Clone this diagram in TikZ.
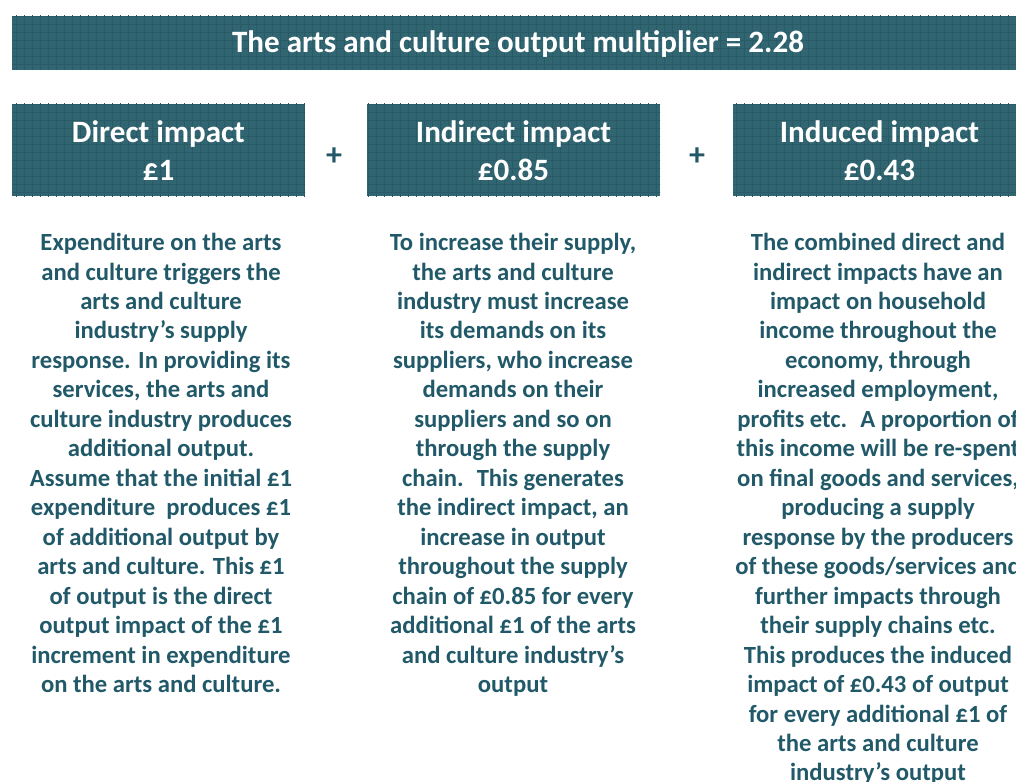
\documentclass[tikz,border=0pt]{standalone}
\usepackage{fontspec}
\setmainfont{Carlito}
\definecolor{boxteal}{RGB}{49,101,113}
\definecolor{gridteal}{RGB}{41,91,103}
\definecolor{textteal}{RGB}{33,89,105}
\begin{document}
\begin{tikzpicture}[x=0.75pt,y=-0.75pt,
  bar/.style={fill=boxteal,draw=none},
  texture/.style={draw=gridteal,line width=0.25pt},
  bartext/.style={text=white,font=\bfseries\fontsize{23.3}{28.5}\selectfont,align=center,inner sep=0pt},
  body/.style={text=textteal,font=\bfseries\fontsize{18.5}{22.1}\selectfont,align=center,inner sep=0pt,anchor=north},
  plus/.style={text=textteal,font=\bfseries\fontsize{24}{26}\selectfont,inner sep=0pt}]
\useasboundingbox (0,0) rectangle (1016,781);
\clip (0,0) rectangle (1016,781);
% header and boxes with grid texture
\foreach \xa/\ya/\xb/\yb in {12/16/1026/70, 12/104/305/196, 367/104/660/196, 733/104/1026/196}{
  \begin{scope}
    \clip (\xa,\ya) rectangle (\xb,\yb);
    \fill[bar] (\xa,\ya) rectangle (\xb,\yb);
    \foreach \gx in {0,8,...,1024}{\draw[texture] (\gx,0) -- (\gx,200);}
    \foreach \gy in {0,8,...,200}{\draw[texture] (0,\gy) -- (1030,\gy);}
  \end{scope}
}
\node[bartext] (title) at (518,44) {The arts and culture output multiplier = 2.28};
\node[bartext] (direct) at (158.5,151) {Direct impact\\£1};
\node[bartext] (indirect) at (513.5,151) {Indirect impact\\£0.85};
\node[bartext] (induced) at (879.5,151) {Induced impact\\£0.43};
\node[plus] (p1) at (334,157) {+};
\node[plus] (p2) at (697,157) {+};
% body texts
\node[body] (t1) at (161,233) {Expenditure on the arts\\and culture triggers the\\arts and culture\\industry’s supply\\response. In providing its\\services, the arts and\\culture industry produces\\additional output.\\Assume that the initial £1\\expenditure~ produces £1\\of additional output by\\arts and culture. This £1\\of output is the direct\\output impact of the £1\\increment in expenditure\\on the arts and culture.};
\node[body] (t2) at (513,233) {To increase their supply,\\the arts and culture\\industry must increase\\its demands on its\\suppliers, who increase\\demands on their\\suppliers and so on\\through the supply\\chain.~ This generates\\the indirect impact, an\\increase in output\\throughout the supply\\chain of £0.85 for every\\additional £1 of the arts\\and culture industry’s\\output};
\node[body] (t3) at (878,233) {The combined direct and\\indirect impacts have an\\impact on household\\income throughout the\\economy, through\\increased employment,\\profits etc.~ A proportion of\\this income will be re-spent\\on final goods and services,\\producing a supply\\response by the producers\\of these goods/services and\\further impacts through\\their supply chains etc.\\This produces the induced\\impact of £0.43 of output\\for every additional £1 of\\the arts and culture\\industry’s output};
\end{tikzpicture}
\end{document}
